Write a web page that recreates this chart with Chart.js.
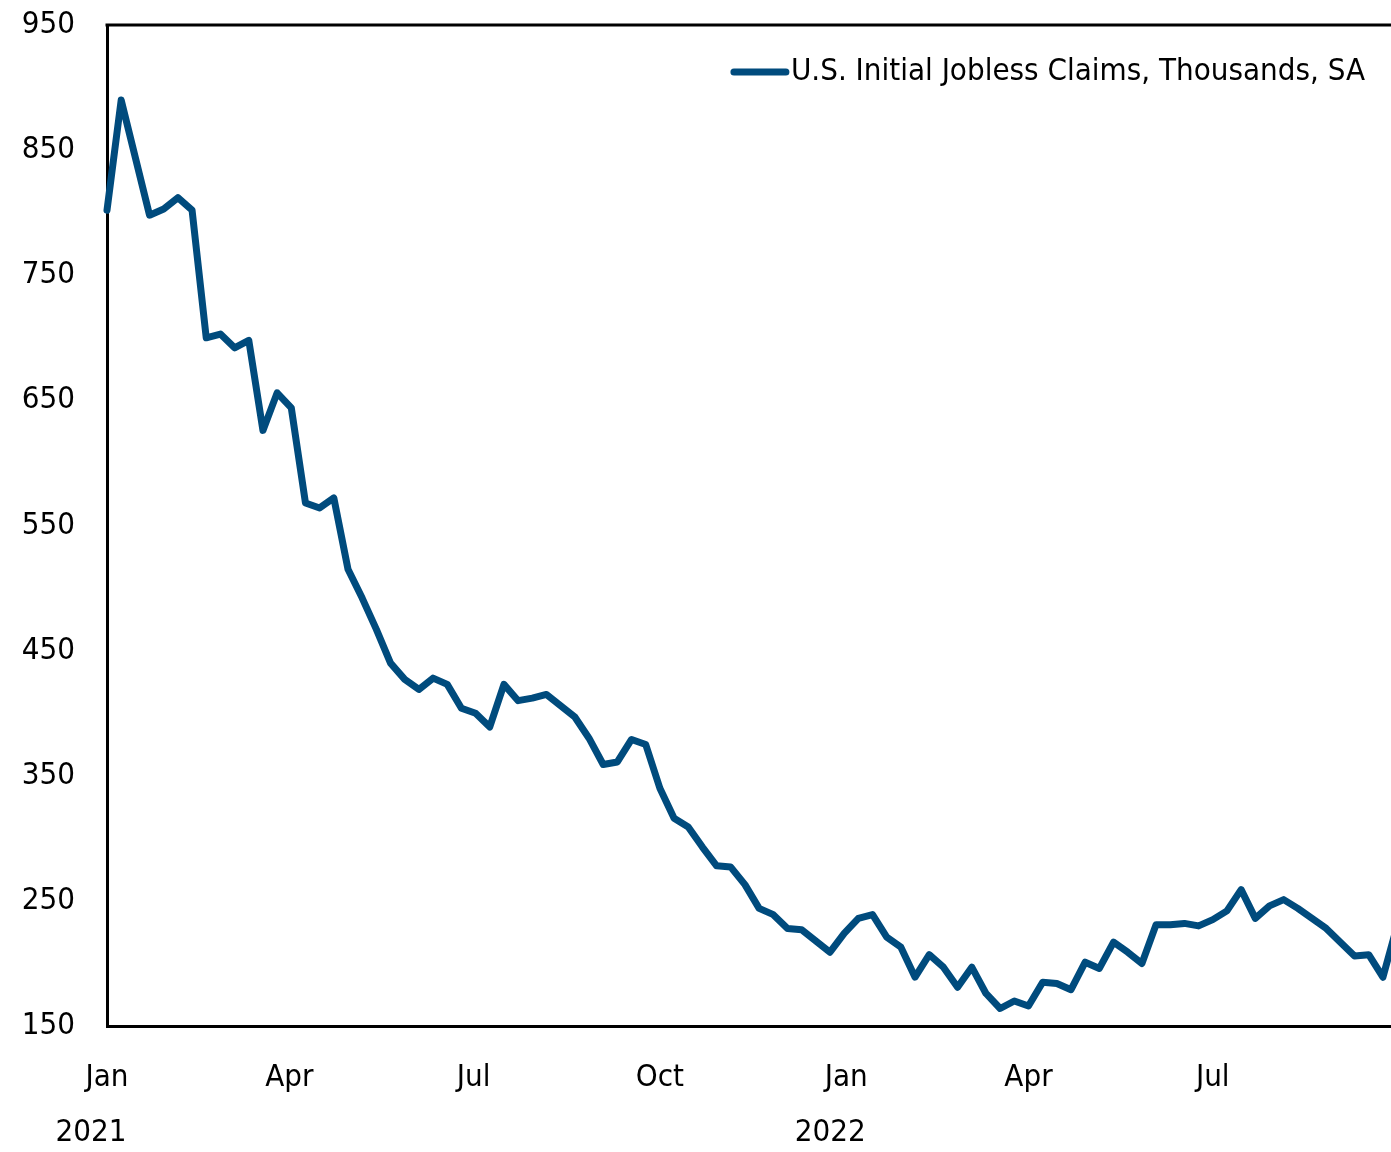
<!DOCTYPE html>
<html>
<head>
<meta charset="utf-8">
<script src="https://cdn.jsdelivr.net/npm/chart.js@4.4.1/dist/chart.umd.min.js"></script>
<style>
  html, body { margin: 0; padding: 0; background: #fff; }
  canvas { display: block; }
</style>
</head>
<body>
<canvas id="c" width="1391" height="1152"></canvas>
<script>
// ---- data ----
const seriesLabel = 'U.S. Initial Jobless Claims, Thousands, SA';
// weekly values, thousands, starting first week of Jan 2021
const claims = [
  802, 890, 844, 798, 803, 812, 802, 700, 703, 692,
  698, 626, 656, 644, 568, 564, 572, 515, 492, 467,
  440, 427, 419, 428, 423, 404, 400, 389, 423, 410,
  412, 415, 406, 397, 380, 359, 361, 379, 375, 340,
  316, 309, 293, 278, 277, 263, 244, 239, 228, 227,
  218, 209, 224, 236, 239, 221, 213, 189, 207, 197,
  181, 197, 176, 164, 170, 166, 185, 184, 179, 201,
  196, 217, 209, 200, 231, 231, 232, 230, 235, 242,
  259, 236, 246, 251, 244, 236, 228, 217, 206, 207,
  189, 230
];
// day offsets from 1 Jan 2021 for each weekly observation
const weekDays = claims.map((_, i) => i * 7);
// x-axis ticks (days from 1 Jan 2021)
const tickDays   = [0, 90, 181, 273, 365, 455, 546];
const tickLabels = ['Jan', 'Apr', 'Jul', 'Oct', 'Jan', 'Apr', 'Jul'];
const yearLabels = ['2021', '', '', '', '2022', '', ''];
// y-axis
const yMin = 150, yMax = 950, yStep = 100;
const xMax = 634;

const FONT = "'Liberation Sans Narrow', 'Arial Narrow', 'DejaVu Sans Condensed', sans-serif";
const FSIZE = 31;
const LINE_COLOR = '#004B7D';

const framePlugin = {
  id: 'frame',
  afterDraw(chart) {
    const { ctx, chartArea } = chart;
    ctx.save();
    // top border
    ctx.strokeStyle = '#000';
    ctx.lineWidth = 3;
    ctx.beginPath();
    ctx.moveTo(chartArea.left - 1.5, chartArea.top);
    ctx.lineTo(chartArea.right, chartArea.top);
    ctx.stroke();

    // year labels
    const xs = chart.scales.x;
    ctx.fillStyle = '#000';
    ctx.font = FSIZE + 'px ' + FONT;
    ctx.textAlign = 'center';
    ctx.textBaseline = 'middle';
    yearLabels.forEach((t, i) => {
      if (!t) return;
      ctx.fillText(t, xs.getPixelForValue(tickDays[i]) - 16, 1133);
    });

    // legend
    ctx.textAlign = 'right';
    const textRight = chartArea.right - 26;
    const ly = chartArea.top + 47;
    ctx.fillText(seriesLabel, textRight, ly);
    const w = ctx.measureText(seriesLabel).width;
    const lx1 = textRight - w - 5;
    ctx.strokeStyle = LINE_COLOR;
    ctx.lineWidth = 7;
    ctx.lineCap = 'round';
    ctx.beginPath();
    ctx.moveTo(lx1 - 52, ly);
    ctx.lineTo(lx1, ly);
    ctx.stroke();
    ctx.restore();
  }
};

new Chart(document.getElementById('c'), {
  type: 'line',
  data: {
    datasets: [{
      label: seriesLabel,
      data: weekDays.map((d, i) => ({ x: d, y: claims[i] })),
      borderColor: LINE_COLOR,
      backgroundColor: LINE_COLOR,
      borderWidth: 7,
      pointRadius: 0,
      tension: 0,
      borderJoinStyle: 'round',
      borderCapStyle: 'round',
      clip: 8
    }]
  },
  options: {
    responsive: false,
    animation: false,
    devicePixelRatio: 1,
    layout: { padding: { top: 25, right: 0, left: 0, bottom: 0 } },
    plugins: {
      legend: { display: false },
      tooltip: { enabled: false }
    },
    scales: {
      x: {
        type: 'linear',
        min: 0,
        max: xMax,
        afterBuildTicks(scale) {
          scale.ticks = tickDays.map(v => ({ value: v }));
        },
        afterFit(scale) {
          scale.height = 126;
          scale.paddingRight = 0;
        },
        ticks: {
          autoSkip: false,
          maxRotation: 0,
          padding: 33,
          color: '#000',
          font: { family: FONT, size: FSIZE },
          callback(value) {
            const i = tickDays.indexOf(value);
            return i >= 0 ? tickLabels[i] : '';
          }
        },
        grid: { display: false, drawTicks: false },
        border: { display: true, color: '#000', width: 3 }
      },
      y: {
        min: yMin,
        max: yMax,
        afterFit(scale) {
          scale.width = 107;
          scale.paddingTop = 0;
          scale.paddingBottom = 0;
        },
        ticks: {
          stepSize: yStep,
          padding: 32,
          color: '#000',
          font: { family: FONT, size: FSIZE }
        },
        grid: { display: false, drawTicks: false },
        border: { display: true, color: '#000', width: 3 }
      }
    }
  },
  plugins: [framePlugin]
});
</script>
</body>
</html>
